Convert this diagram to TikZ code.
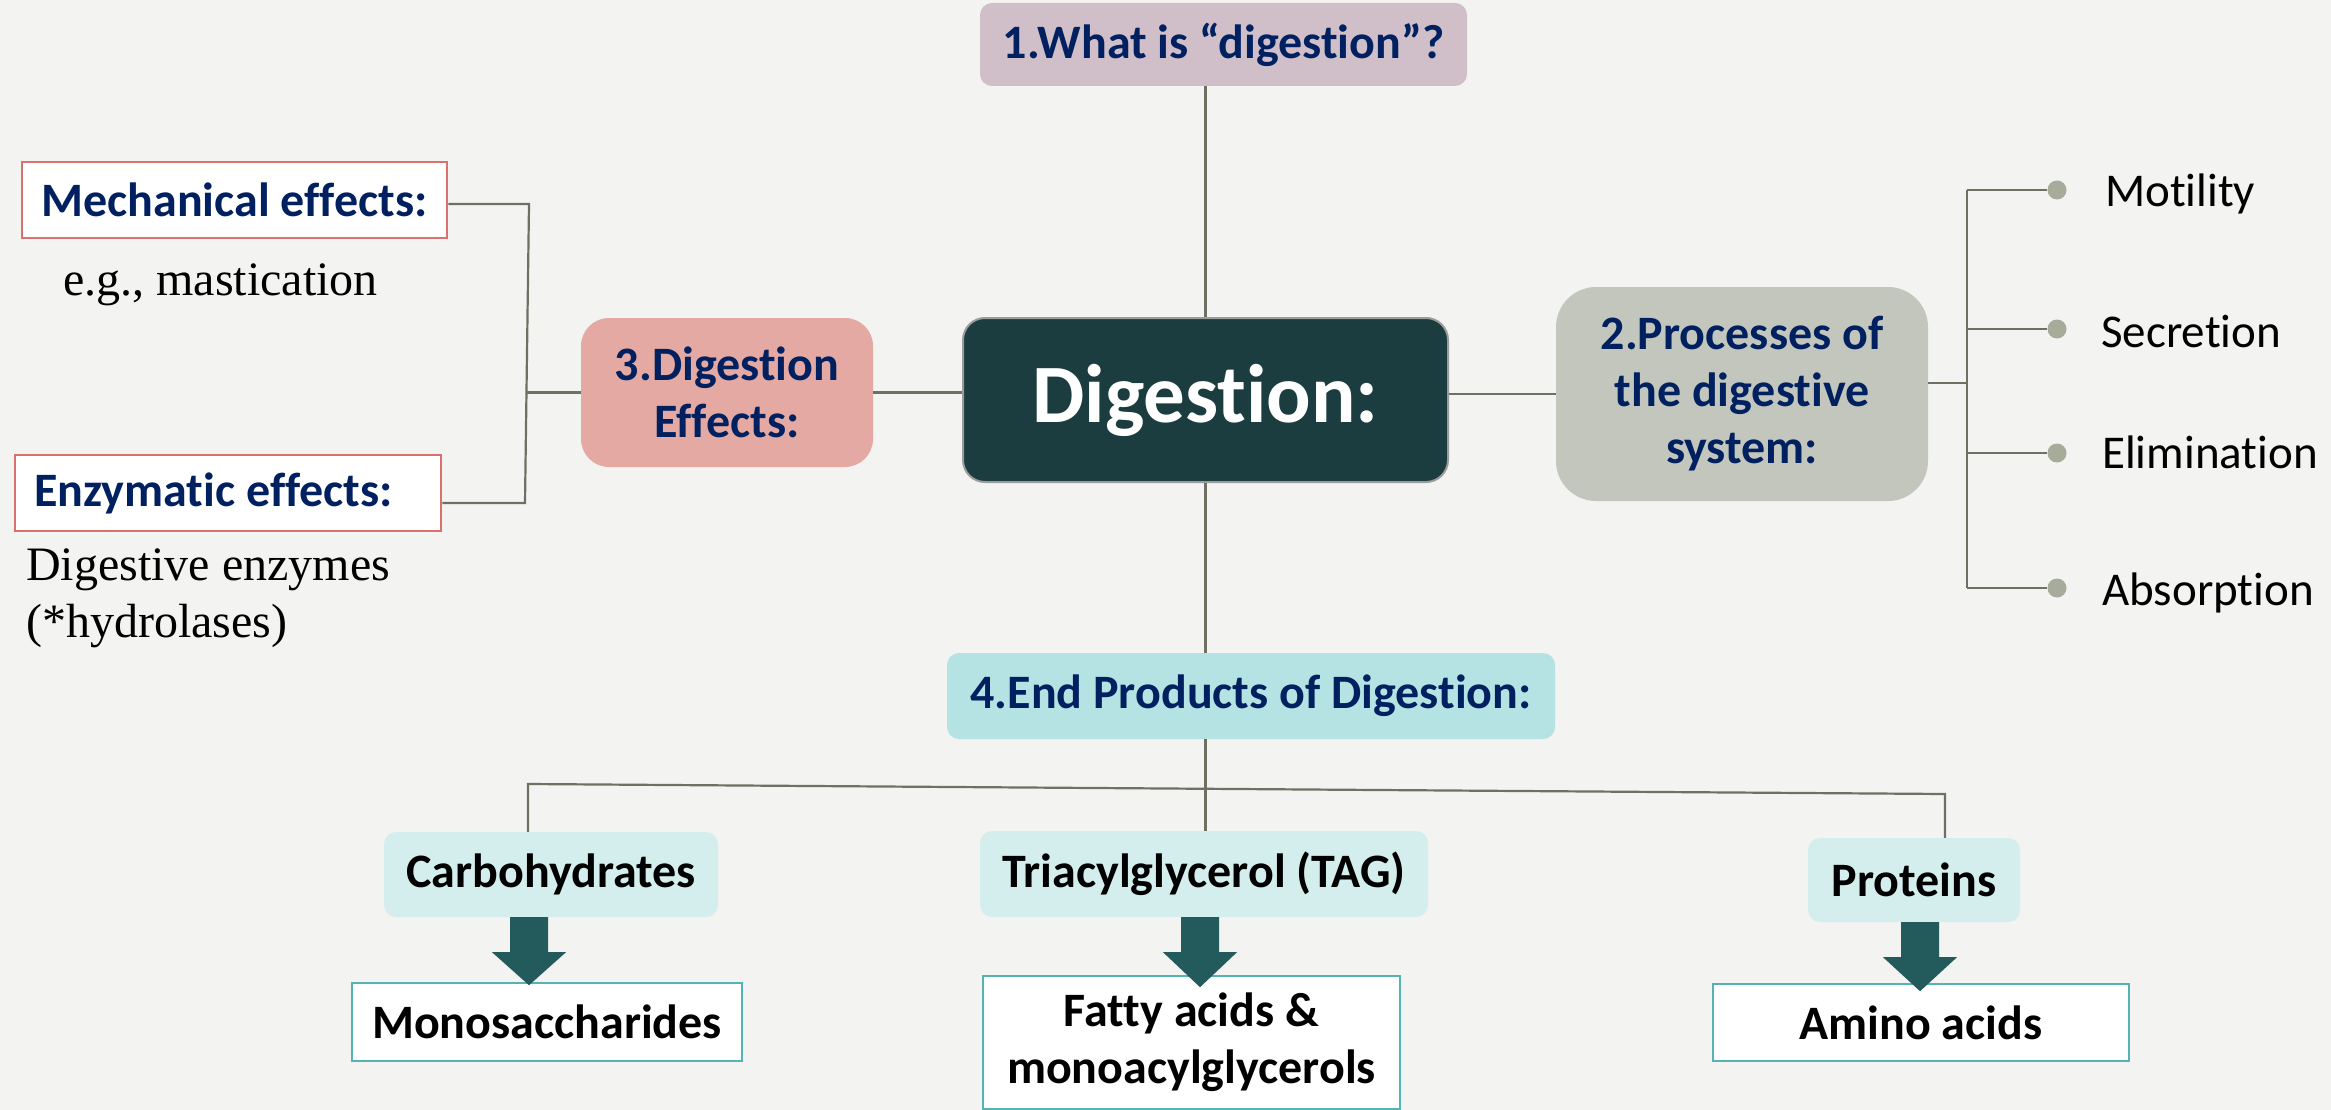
\documentclass[tikz,border=0pt]{standalone}
\usepackage{fontspec}
\setmainfont{Carlito}[Ligatures=NoCommon]
\newfontfamily\serifT{Liberation Serif}
\usetikzlibrary{calc}
\definecolor{bgc}{HTML}{F3F3F1}
\definecolor{linec}{HTML}{6D7062}
\definecolor{navy}{HTML}{002060}
\definecolor{qonec}{HTML}{D0BFC9}
\definecolor{centc}{HTML}{1B3D3F}
\definecolor{centb}{HTML}{9B9B9B}
\definecolor{qthreec}{HTML}{E4A9A2}
\definecolor{qtwoc}{HTML}{C3C6BD}
\definecolor{qfourc}{HTML}{B5E2E3}
\definecolor{leafc}{HTML}{D4EDED}
\definecolor{arrc}{HTML}{235A5C}
\definecolor{tealb}{HTML}{55B3B3}
\definecolor{redb}{HTML}{D9716D}
\definecolor{bulc}{HTML}{A7AB9A}
\newcommand\blockarr[3]{\fill[arrc] ($(#1)+(-19,0)$) -- ($(#1)+(19,0)$) -- ($(#1)+(19,#2)$) -- ($(#1)+(37,#2)$) -- ($(#1)+(0,#3)$) -- ($(#1)+(-37,#2)$) -- ($(#1)+(-19,#2)$) -- cycle;}
\begin{document}
\begin{tikzpicture}[x=1pt,y=-1pt,
  bfont/.style={font=\fontsize{48}{57}\selectfont\bfseries, align=center, inner sep=0pt},
  rbox/.style={bfont, text=navy, rectangle},
  leaf/.style={bfont, text=black, fill=leafc, rounded corners=12pt},
  whiteT/.style={bfont, text=black, fill=white, draw=tealb, line width=2.5pt},
  whiteR/.style={bfont, text=navy, fill=white, draw=redb, line width=2.5pt},
  conn/.style={draw=linec, line width=2.2pt},
  bullet/.style={circle, fill=bulc, inner sep=0pt, minimum size=19pt},
  plain/.style={font=\fontsize{47}{57}\selectfont, text=black, inner sep=0pt, anchor=base west},
  serif/.style={font=\serifT\fontsize{48}{57}\selectfont, text=black, inner sep=0pt, anchor=base west}
]
\path[use as bounding box, fill=bgc] (0,0) rectangle (2331,1110);

% main nodes
\node[rbox, fill=qonec, rounded corners=12pt, minimum width=487pt, minimum height=83pt] (q1) at (1223.5,44.5) {1.What is “digestion”?};
\node[bfont, text=white, fill=centc, draw=centb, line width=2pt, rounded corners=22pt, minimum width=485pt, minimum height=164pt, font=\fontsize{83}{90}\selectfont\bfseries] (cent) at (1205.5,400) {Digestion:};
\node[rbox, fill=qthreec, rounded corners=28pt, minimum width=292pt, minimum height=149pt] (q3) at (727,392.5) {3.Digestion\\Effects:};
\node[rbox, fill=qtwoc, rounded corners=40pt, minimum width=372pt, minimum height=214pt] (q2) at (1742,394) {2.Processes of\\the digestive\\system:};
\node[rbox, fill=qfourc, rounded corners=12pt, minimum width=608pt, minimum height=86pt] (q4) at (1251,696) {4.End Products of Digestion:};

% left side
\node[whiteR, minimum width=425pt, minimum height=76pt] (mech) at (234.5,200) {Mechanical effects:};
\node[whiteR, minimum width=426pt, minimum height=76pt] (enz) at (228,493) {\makebox[388pt][l]{Enzymatic effects:}};
\node[serif] (eg) at (63,295) {e.g., mastication};
\node[serif] (enza) at (26,580) {Digestive enzymes};
\node[serif] (enzb) at (26,637) {(*hydrolases)};

% right side
\node[bullet] (b1) at (2057,190) {};
\node[bullet] (b2) at (2057,329) {};
\node[bullet] (b3) at (2057,453) {};
\node[bullet] (b4) at (2057,588) {};
\node[plain] (l1) at (2105,207) {Motility};
\node[plain] (l2) at (2101,347) {Secretion};
\node[plain] (l3) at (2102,468) {Elimination};
\node[plain] (l4) at (2102,605) {Absorption};

% bottom
\node[leaf, minimum width=334pt, minimum height=85pt] (carb) at (551,874.5) {Carbohydrates};
\node[leaf, minimum width=448pt, minimum height=86pt] (tag) at (1204,874) {Triacylglycerol (TAG)};
\node[leaf, minimum width=212pt, minimum height=84pt] (prot) at (1914,880) {Proteins};
\node[whiteT, minimum width=390pt, minimum height=78pt] (mono) at (547,1022) {Monosaccharides};
\node[whiteT, minimum width=417pt, minimum height=133pt] (fatty) at (1191.5,1042.5) {Fatty acids \&\\monoacylglycerols};
\node[whiteT, minimum width=416pt, minimum height=77pt] (amino) at (1921,1022.5) {Amino acids};

% connectors
\draw[conn] (q1.south -| cent.north) -- (cent.north);
\draw[conn] (q3.east) -- (q3.east -| cent.west);
\draw[conn] (cent.east |- q2.west) -- (q2.west);
\draw[conn] (cent.south) -- (cent.south |- q4.north);

\coordinate (lbT) at (529,204);
\coordinate (lbB) at (525,503);
\coordinate (lbM) at (527,392.5);
\draw[conn] (mech.east |- lbT) -- (lbT) -- (lbB) -- (enz.east |- lbB);
\draw[conn] (lbM) -- (q3.west |- lbM);

\coordinate (rbS) at (1967,383);
\coordinate (rb1) at (1967,190);
\coordinate (rb2) at (1967,329);
\coordinate (rb3) at (1967,453);
\coordinate (rb4) at (1967,588);
\draw[conn] (q2.east |- rbS) -- (rbS);
\draw[conn] (rb1) -- (rb4);
\draw[conn] (rb1) -- (b1);
\draw[conn] (rb2) -- (b2);
\draw[conn] (rb3) -- (b3);
\draw[conn] (rb4) -- (b4);

\coordinate (hL) at (528,784);
\coordinate (hR) at (1945,794);
\draw[conn] (hL |- carb.north) -- (hL) -- (hR) -- (hR |- prot.north);
\draw[conn] (q4.south -| cent.south) -- (tag.north -| cent.south);

% block arrows
\coordinate (ax1) at (529,0);
\coordinate (ax2) at (1200,0);
\coordinate (ax3) at (1920,0);
\coordinate (a1) at (carb.south -| ax1);
\coordinate (a2) at (tag.south -| ax2);
\coordinate (a3) at (prot.south -| ax3);
\blockarr{a1}{35}{68}
\blockarr{a2}{35}{70}
\blockarr{a3}{35}{69}
\end{tikzpicture}
\end{document}
